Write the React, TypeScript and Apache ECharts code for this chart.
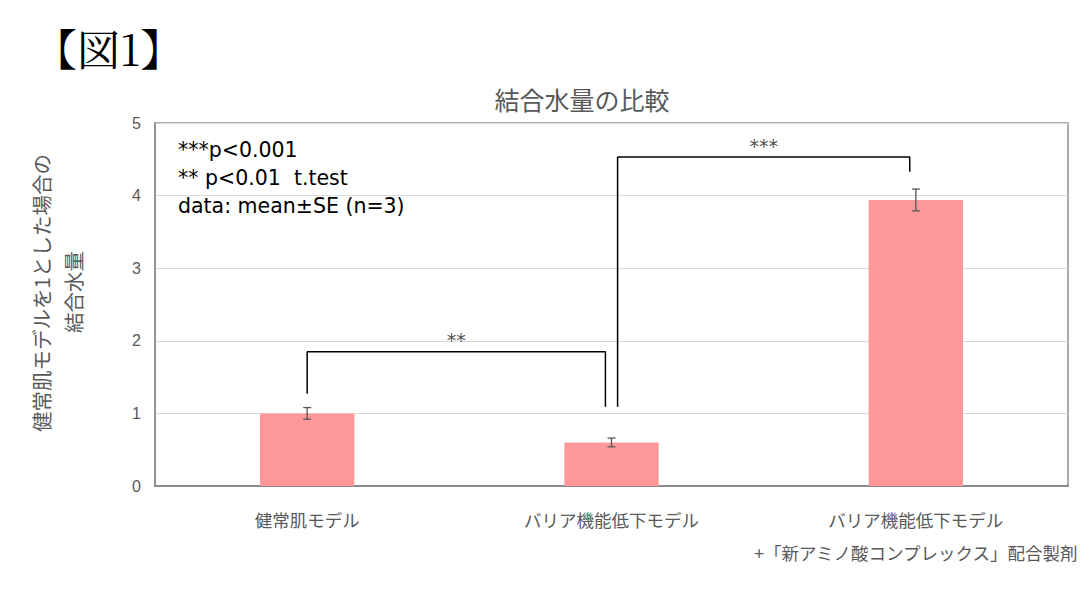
import React, { useRef, useEffect } from 'react';
import * as echarts from 'echarts';

// Chart data
const CATEGORIES = [
  '健常肌モデル',
  'バリア機能低下モデル',
  'バリア機能低下モデル\n+「新アミノ酸コンプレックス」配合製剤',
];
const MEANS = [1.0, 0.6, 3.94];
const SE = [0.08, 0.06, 0.15];
const Y_TICKS = [0, 1, 2, 3, 4, 5];

// Significance brackets in (category-position, value) space; category i centre = i + 0.5
const BRACKET_LOW: [number, number][] = [[0.5, 1.27], [0.5, 1.85], [1.48, 1.85], [1.48, 1.09]];
const BRACKET_HIGH: [number, number][] = [[1.52, 1.09], [1.52, 4.53], [2.48, 4.53], [2.48, 4.33]];
const STAR_MARKS: { pos: [number, number]; text: string }[] = [
  { pos: [0.99, 1.85], text: '**' },
  { pos: [2.0, 4.53], text: '***' },
];
const NOTE_LINES = ['***p<0.001', '** p<0.01  t.test', 'data: mean±SE (n=3)'];

const JP = '"Noto Sans CJK JP", "Noto Sans", sans-serif';
const GREY = '#595959';

const App: React.FC = () => {
  const chartRef = useRef<HTMLDivElement>(null);

  useEffect(() => {
    if (!chartRef.current) return;
    const chart = echarts.init(chartRef.current, null, { renderer: 'svg' });

    const option: echarts.EChartsOption = {
      animation: false,
      backgroundColor: '#ffffff',
      title: {
        text: '結合水量の比較',
        left: 577,
        top: 81,
        textAlign: 'center',
        textStyle: { fontFamily: JP, fontSize: 25, fontWeight: 'normal', color: GREY },
      },
      grid: {
        left: 155,
        right: 22,
        top: 123,
        bottom: 112,
        show: true,
        borderColor: '#8f8f8f',
        borderWidth: 1.5,
        backgroundColor: 'transparent',
      },
      xAxis: [
        {
          type: 'category',
          data: CATEGORIES,
          axisLine: { lineStyle: { color: '#8a8a8a', width: 2 } },
          axisTick: { show: false },
          axisLabel: {
            fontFamily: JP,
            fontSize: 17.5,
            color: GREY,
            margin: 17,
            lineHeight: 33,
            interval: 0,
          },
        },
        {
          type: 'value',
          min: 0,
          max: 3,
          show: false,
        },
      ],
      yAxis: {
        type: 'value',
        min: Y_TICKS[0],
        max: Y_TICKS[Y_TICKS.length - 1],
        interval: 1,
        axisLine: { show: true, lineStyle: { color: '#8a8a8a', width: 1.5 } },
        axisTick: { show: false },
        axisLabel: { fontFamily: '"Liberation Sans", Arial, sans-serif', fontSize: 16, color: GREY, margin: 14 },
        splitLine: { lineStyle: { color: '#d9d9d9', width: 1 } },
      },
      graphic: [
        {
          type: 'text',
          left: 34,
          top: 26,
          style: {
            text: '【図1】',
            fontFamily: '"Noto Serif CJK JP", "DejaVu Serif", serif',
            fontSize: 43,
            fill: '#000',
          },
        },
        {
          type: 'text',
          x: 41,
          y: 293,
          rotation: Math.PI / 2,
          style: {
            text: '健常肌モデルを1とした場合の',
            fontFamily: JP,
            fontSize: 20.5,
            fill: GREY,
            align: 'center',
            verticalAlign: 'middle',
          },
        },
        {
          type: 'text',
          x: 73,
          y: 292,
          rotation: Math.PI / 2,
          style: {
            text: '結合水量',
            fontFamily: JP,
            fontSize: 20.5,
            fill: GREY,
            align: 'center',
            verticalAlign: 'middle',
          },
        },
        {
          type: 'text',
          x: 178,
          y: 136,
          style: {
            text: NOTE_LINES.join('\n'),
            fontFamily: '"DejaVu Sans", sans-serif',
            fontSize: 20.5,
            lineHeight: 28,
            fill: '#000',
          },
        },
      ],
      series: [
        {
          type: 'bar',
          data: MEANS,
          barWidth: '31%',
          itemStyle: { color: '#ff9999' },
          z: 2,
        },
        {
          type: 'custom',
          z: 5,
          data: MEANS.map((m, i) => [i, m, SE[i]]),
          renderItem: (params: any, api: any) => {
            const idx = api.value(0);
            const m = api.value(1);
            const se = api.value(2);
            const hi = api.coord([idx, m + se]);
            const lo = api.coord([idx, m - se]);
            const cap = 4;
            const style = { stroke: '#555', lineWidth: 1.3 };
            return {
              type: 'group',
              children: [
                { type: 'line', shape: { x1: hi[0], y1: hi[1], x2: lo[0], y2: lo[1] }, style },
                { type: 'line', shape: { x1: hi[0] - cap, y1: hi[1], x2: hi[0] + cap, y2: hi[1] }, style },
                { type: 'line', shape: { x1: lo[0] - cap, y1: lo[1], x2: lo[0] + cap, y2: lo[1] }, style },
              ],
            };
          },
        },
        ...[BRACKET_LOW, BRACKET_HIGH].map((b) => ({
          type: 'line' as const,
          xAxisIndex: 1,
          data: b,
          symbol: 'none',
          lineStyle: { color: '#000', width: 1.5 },
          z: 6,
          silent: true,
        })),
        {
          type: 'scatter',
          xAxisIndex: 1,
          symbolSize: 0,
          data: STAR_MARKS.map((s) => ({ value: s.pos, name: s.text })),
          label: {
            show: true,
            position: 'top',
            distance: 2,
            formatter: (p: any) => p.name,
            fontFamily: '"DejaVu Sans", sans-serif',
            fontSize: 19,
            color: '#222',
          },
          z: 6,
          silent: true,
        },
      ],
    };

    chart.setOption(option);
    return () => chart.dispose();
  }, []);

  return (
    <div
      ref={chartRef}
      style={{ position: 'fixed', left: 0, top: 0, width: 1090, height: 598 }}
    />
  );
};

export default App;
